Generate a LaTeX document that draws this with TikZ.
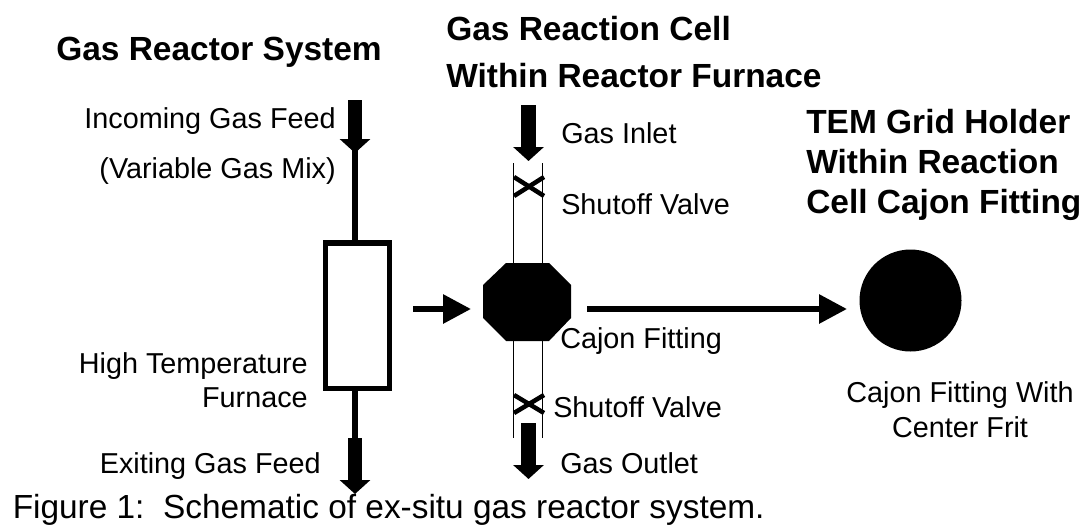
\documentclass[tikz,border=0pt]{standalone}
\usepackage{fontspec}
\setmainfont{Liberation Sans}
\usetikzlibrary{arrows.meta}
\tikzset{
  lbl/.style={inner sep=0pt,font=\fontsize{21.6}{24}\selectfont},
  ttl/.style={inner sep=0pt,font=\fontsize{25.1}{28}\selectfont\bfseries},
  feed/.style={line width=11pt,-{Triangle[width=22.5pt,length=10.5pt]}},
  flow/.style={line width=4.5pt,-{Triangle[width=21pt,length=21pt]}},
  valve/.style={line width=3.4pt},
  pipe/.style={line width=0.6pt},
  tube/.style={line width=4pt}
}
\begin{document}
\begin{tikzpicture}[x=0.75pt,y=-0.75pt]
      \useasboundingbox (0,0) rectangle (1087,525);
      %reactor system
      \coordinate (infeedtop) at (355,100);
      \coordinate (infeedend) at (355,153);
      \coordinate (outfeedtop) at (355,438);
      \coordinate (outfeedend) at (355,494);
      \node[draw,line width=4pt,minimum width=48pt,minimum height=109pt,inner sep=0pt] (furnace) at (357.5,315.5) {};
      \draw[feed] (infeedtop) -- (infeedend);
      \draw[feed] (outfeedtop) -- (outfeedend);
      \draw[tube] (355,145) -- (infeedend |- furnace.north);
      \draw[tube] (outfeedtop) -- (outfeedtop |- furnace.south);
      %reaction cell
      \fill (483,285) -- (506,263) -- (549,263) -- (571,285) -- (571,318) -- (549,341) -- (506,341) -- (483,318) -- cycle;
      \coordinate (intop) at (528.5,105);
      \coordinate (inend) at (528.5,161);
      \coordinate (outtop) at (528.5,423);
      \coordinate (outend) at (528.5,479);
      \draw[feed] (intop) -- (inend);
      \draw[feed] (outtop) -- (outend);
      \draw[pipe] (513.5,163) -- (513.5,263);
      \draw[pipe] (542.5,163) -- (542.5,263);
      \draw[pipe] (513.5,341) -- (513.5,438);
      \draw[pipe] (542.5,341) -- (542.5,438);
      \draw[valve] (514,177) -- (544,196);
      \draw[valve] (514,196) -- (544,177);
      \draw[valve] (514,395) -- (544,413);
      \draw[valve] (514,413) -- (544,395);
      %arrows
      \coordinate (leftstart) at (413,309);
      \coordinate (leftend) at (471,309);
      \coordinate (rightstart) at (587,309);
      \coordinate (rightend) at (847,309);
      \node[circle,fill=black,inner sep=0pt,minimum size=76.5pt] (frit) at (910.5,300.5) {};
      \draw[flow] (leftstart) -- (leftend);
      \draw[flow] (rightstart) -- (rightend);
      %labels
      \node[ttl,anchor=base west] (sysname) at (56,60) {Gas Reactor System};
      \node[ttl,anchor=base west] (cellname) at (446,40) {Gas Reaction Cell};
      \node[ttl,anchor=base west] (cellsub) at (446,87) {Within Reactor Furnace};
      \node[ttl,anchor=base west] (temname) at (806,133) {TEM Grid Holder};
      \node[ttl,anchor=base west] (temsub) at (806,173) {Within Reaction};
      \node[ttl,anchor=base west] (temend) at (806,213) {Cell Cajon Fitting};
      \node[lbl,anchor=base east] (infeed) at (336,128) {Incoming Gas Feed};
      \node[lbl,anchor=base east] (mix) at (336,178) {(Variable Gas Mix)};
      \node[lbl,anchor=base east] (hightemp) at (308,373) {High Temperature};
      \node[lbl,anchor=base east] (furnacename) at (308,407) {Furnace};
      \node[lbl,anchor=base east] (exit) at (321,473) {Exiting Gas Feed};
      \node[lbl,anchor=base west] (inlet) at (561,143) {Gas Inlet};
      \node[lbl,anchor=base west] (upvalve) at (561,214) {Shutoff Valve};
      \node[lbl,anchor=base west] (fitting) at (560,348) {Cajon Fitting};
      \node[lbl,anchor=base west] (lowvalve) at (553,417) {Shutoff Valve};
      \node[lbl,anchor=base west] (outlet) at (560,473) {Gas Outlet};
      \node[lbl,anchor=base] (fritname) at (960,402) {Cajon Fitting With};
      \node[lbl,anchor=base] (fritsub) at (960,437) {Center Frit};
      \node[anchor=base west,inner sep=0pt,font=\fontsize{25.05}{28}\selectfont] (caption) at (12.5,518.5) {Figure 1:\ \ Schematic of ex-situ gas reactor system.};
\end{tikzpicture}
\end{document}
